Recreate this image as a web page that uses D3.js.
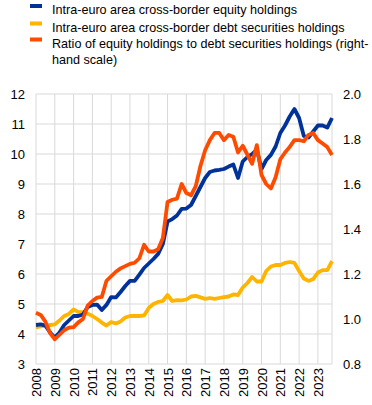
<!DOCTYPE html>
<html><head><meta charset="utf-8">
<script src="https://cdn.jsdelivr.net/npm/d3@7"></script>
<style>
body{margin:0;background:#fff;}
svg text{font-family:Arial,"Liberation Sans",sans-serif;fill:#000;}
</style></head>
<body><svg id="c" width="372" height="405"></svg>
<script>
// quarterly data 2008Q1 .. 2023Q4
const startYear = 2008;
const equity = [4.30,4.32,4.28,4.05,3.88,4.05,4.30,4.45,4.60,4.60,4.65,4.90,4.97,4.98,4.80,4.97,
  5.23,5.22,5.40,5.60,5.77,5.77,5.98,6.20,6.35,6.50,6.67,7.00,7.75,7.83,7.95,8.17,
  8.18,8.30,8.60,8.90,9.20,9.40,9.45,9.47,9.50,9.58,9.65,9.20,9.75,9.90,10.00,10.15,
  9.50,9.80,9.97,10.25,10.70,10.95,11.25,11.50,11.20,10.60,10.55,10.75,10.95,10.95,10.88,11.20];
const debt = [4.22,4.25,4.28,4.30,4.32,4.45,4.60,4.67,4.82,4.73,4.73,4.68,4.60,4.50,4.38,4.28,
  4.40,4.35,4.42,4.55,4.60,4.60,4.60,4.62,4.87,5.00,5.07,5.10,5.30,5.10,5.13,5.12,
  5.15,5.25,5.27,5.22,5.17,5.20,5.17,5.20,5.23,5.25,5.32,5.30,5.55,5.70,5.90,5.75,
  5.75,6.10,6.25,6.30,6.30,6.37,6.40,6.37,6.10,5.85,5.77,5.83,6.05,6.13,6.13,6.43];
const ratio = [1.028,1.018,0.988,0.937,0.910,0.930,0.950,0.962,0.964,0.985,1.000,1.060,1.080,1.095,1.098,1.170,
  1.190,1.210,1.225,1.235,1.245,1.250,1.270,1.330,1.300,1.300,1.310,1.360,1.520,1.530,1.535,1.600,
  1.560,1.550,1.590,1.680,1.750,1.795,1.827,1.827,1.795,1.818,1.810,1.740,1.770,1.730,1.690,1.773,
  1.640,1.600,1.580,1.630,1.710,1.740,1.765,1.795,1.795,1.790,1.818,1.827,1.795,1.780,1.764,1.729];
const yearLabels = d3.range(2008, 2024).map(String);
const leftTicks = [3,4,5,6,7,8,9,10,11,12];
const rightTicks = [0.8,1.0,1.2,1.4,1.6,1.8,2.0];
const legendLabels = [
  ["Intra-euro area cross-border equity holdings"],
  ["Intra-euro area cross-border debt securities holdings"],
  ["Ratio of equity holdings to debt securities holdings (right-", "hand scale)"]
];
const colors = ["#003299","#FFB400","#FF4B00"];

const svg = d3.select("#c");
const L = 36, R = 332, T = 94, B = 364;
const x = d3.scaleLinear().domain([startYear, startYear + 63/4]).range([L, R]);
const yL = d3.scaleLinear().domain([3,12]).range([B, T]);
const yR = d3.scaleLinear().domain([0.8,2.0]).range([B, T]);
const t = i => startYear + i/4;

// grid
const g = svg.append("g");
g.selectAll("line.h").data(leftTicks).join("line")
  .attr("x1", L).attr("x2", R).attr("y1", d=>yL(d)).attr("y2", d=>yL(d))
  .attr("stroke", "#d9d9d9").attr("stroke-width", 1);
g.selectAll("line.v").data(yearLabels.map(Number).concat([startYear+63/4])).join("line")
  .attr("x1", d=>x(d)).attr("x2", d=>x(d)).attr("y1", T).attr("y2", B)
  .attr("stroke", "#d9d9d9").attr("stroke-width", 1);

// axes labels
const axL = svg.append("g").attr("transform", `translate(${L},0)`)
  .call(d3.axisLeft(yL).tickValues(leftTicks).tickSize(0).tickPadding(11).tickFormat(d3.format("d")));
const axR = svg.append("g").attr("transform", `translate(${R},0)`)
  .call(d3.axisRight(yR).tickValues(rightTicks).tickSize(0).tickPadding(11).tickFormat(d3.format(".1f")));
const axB = svg.append("g").attr("transform", `translate(0,${B})`)
  .call(d3.axisBottom(x).tickValues(yearLabels.map(Number)).tickSize(0).tickFormat(d3.format("d")));
[axL, axR, axB].forEach(a => { a.select(".domain").remove(); a.selectAll("text").attr("font-size", 13).attr("font-family", "Arial, 'Liberation Sans', sans-serif"); });
axB.selectAll("text").attr("transform", "rotate(-90)").attr("text-anchor", "end")
  .attr("x", -4).attr("y", 0).attr("dy", "0.35em");

// lines
const lineL = d3.line().x((d,i)=>x(t(i))).y(d=>yL(d)).curve(d3.curveLinear);
const lineR = d3.line().x((d,i)=>x(t(i))).y(d=>yR(d)).curve(d3.curveLinear);
svg.append("path").datum(debt).attr("d", lineL).attr("fill","none").attr("stroke",colors[1]).attr("stroke-width",3.8).attr("stroke-linejoin","round");
svg.append("path").datum(equity).attr("d", lineL).attr("fill","none").attr("stroke",colors[0]).attr("stroke-width",3.8).attr("stroke-linejoin","round");
svg.append("path").datum(ratio).attr("d", lineR).attr("fill","none").attr("stroke",colors[2]).attr("stroke-width",3.8).attr("stroke-linejoin","round");

// legend
const legY = [5.5, 23, 39];
const lg = svg.append("g");
legendLabels.forEach((lines, k) => {
  lg.append("rect").attr("x", 30).attr("y", legY[k]-1.5).attr("width", 12).attr("height", 4).attr("fill", colors[k]);
  lines.forEach((s, j) => {
    lg.append("text").attr("x", 52).attr("y", legY[k] + 8.5 + j*16).attr("font-size", 12.6).text(s);
  });
});
</script></body></html>
